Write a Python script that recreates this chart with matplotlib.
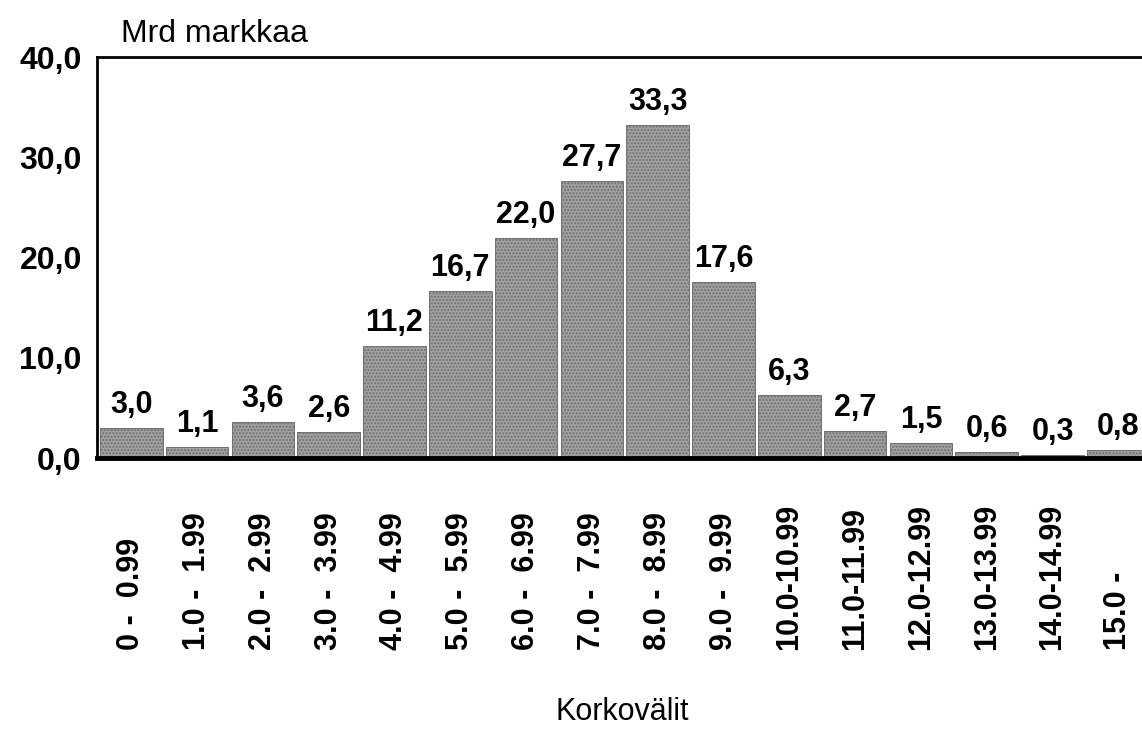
import numpy as np
import matplotlib
matplotlib.use("Agg")
import matplotlib.pyplot as plt

plt.rcParams['font.family'] = ['Liberation Sans', 'DejaVu Sans']
plt.rcParams['hatch.color'] = '#7f7f7f'

# Korkovälit ja määrät (Mrd markkaa)
categories = ['0 -  0.99', '1.0 -  1.99', '2.0 -  2.99', '3.0 -  3.99', '4.0 -  4.99',
              '5.0 -  5.99', '6.0 -  6.99', '7.0 -  7.99', '8.0 -  8.99', '9.0 -  9.99',
              '10.0-10.99', '11.0-11.99', '12.0-12.99', '13.0-13.99', '14.0-14.99',
              '15.0 -']
values = [3.0, 1.1, 3.6, 2.6, 11.2, 16.7, 22.0, 27.7, 33.3, 17.6,
          6.3, 2.7, 1.5, 0.6, 0.3, 0.8]
y_ticks = [0, 10, 20, 30, 40]


def fi(v):
    return f"{v:.1f}".replace('.', ',')


fig = plt.figure(figsize=(11.42, 7.46), dpi=100)
ax = fig.add_axes([0.085, 0.386, 0.915, 0.537])

x = np.arange(len(values))
ax.bar(x, values, width=0.95, color='#a0a0a0', edgecolor='#707070',
       linewidth=0.7, hatch='.....', zorder=2)

for xi, v in zip(x, values):
    ax.text(xi, v + 0.8, fi(v), ha='center', va='bottom',
            fontsize=22, fontweight='bold')

ax.set_xlim(-0.52, 15.36)
ax.set_ylim(0, 40)
ax.set_yticks(y_ticks)
ax.set_yticklabels([fi(t) for t in y_ticks], fontsize=23, fontweight='bold')
ax.tick_params(axis='y', length=0, pad=11)
ax.set_xticks([])

for xi, lab in zip(x, categories):
    ax.text(xi, -0.48, lab, transform=ax.get_xaxis_transform(),
            rotation=90, ha='center', va='bottom',
            fontsize=22, fontweight='bold')

ax.spines['right'].set_visible(False)
ax.spines['left'].set_linewidth(2)
ax.spines['top'].set_linewidth(2)
ax.spines['bottom'].set_linewidth(3.5)

fig.text(0.106, 0.944, 'Mrd markkaa', fontsize=23, va='baseline', ha='left')
fig.text(0.545, 0.045, 'Korkovälit', fontsize=22, va='center', ha='center')

fig.savefig('out.png', dpi=100)
